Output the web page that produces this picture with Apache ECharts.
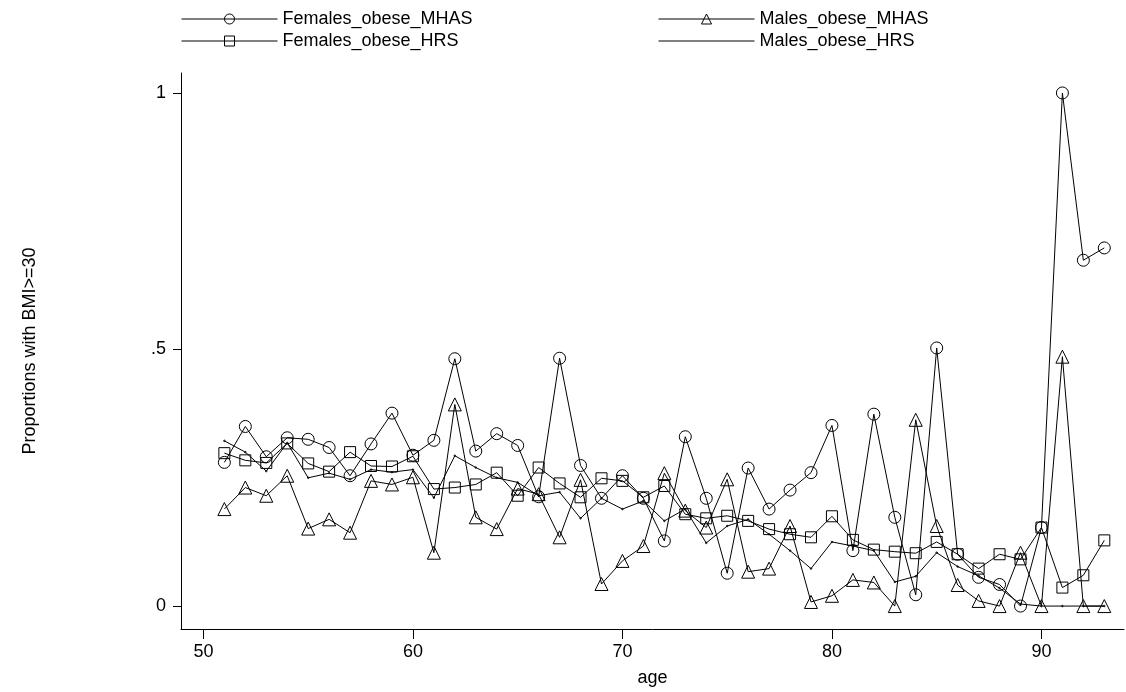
<!DOCTYPE html>
<html>
<head>
<meta charset="utf-8">
<script src="https://cdn.jsdelivr.net/npm/echarts@6/dist/echarts.min.js"></script>
<style>
  html, body { margin: 0; padding: 0; background: #fff; }
  #chart { width: 1126px; height: 692px; }
</style>
</head>
<body>
<div id="chart"></div>
<script>
// ages 51..93
const ages = [51,52,53,54,55,56,57,58,59,60,61,62,63,64,65,66,67,68,69,70,71,72,73,74,75,76,77,78,79,80,81,82,83,84,85,86,87,88,89,90,91,92,93];

const femalesObeseMHAS = [0.280,0.350,0.291,0.328,0.325,0.309,0.254,0.316,0.376,0.294,0.323,0.482,0.302,0.336,0.313,0.213,0.483,0.274,0.210,0.254,0.210,0.127,0.330,0.210,0.064,0.269,0.189,0.226,0.260,0.352,0.108,0.374,0.173,0.022,0.503,0.101,0.056,0.042,0.000,0.153,1.000,0.674,0.698];

const femalesObeseHRS = [0.298,0.284,0.279,0.317,0.278,0.262,0.300,0.273,0.272,0.292,0.228,0.231,0.237,0.260,0.215,0.270,0.239,0.212,0.249,0.244,0.212,0.234,0.179,0.171,0.176,0.166,0.150,0.140,0.134,0.175,0.129,0.110,0.106,0.103,0.125,0.101,0.073,0.101,0.091,0.153,0.036,0.060,0.128];

const malesObeseMHAS = [0.189,0.231,0.215,0.254,0.151,0.169,0.143,0.244,0.237,0.251,0.104,0.393,0.173,0.150,0.229,0.218,0.134,0.246,0.043,0.088,0.117,0.259,0.186,0.153,0.247,0.067,0.073,0.156,0.008,0.020,0.051,0.046,0.000,0.363,0.156,0.041,0.010,0.000,0.104,0.000,0.486,0.000,0.000];

const malesObeseHRS = [0.322,0.300,0.263,0.318,0.250,0.259,0.247,0.266,0.261,0.266,0.211,0.293,0.270,0.250,0.241,0.215,0.222,0.171,0.210,0.189,0.205,0.166,0.189,0.123,0.156,0.169,0.140,0.108,0.073,0.125,0.117,0.108,0.047,0.058,0.104,0.077,0.059,0.035,0.004,0.000,0.000,0.000,0.000];

const xTicks = [50, 60, 70, 80, 90];
const yTicks = [0, 0.5, 1];
const yTickLabels = ['0', '.5', '1'];

const FONT = "'Liberation Sans', Arial, sans-serif";
const INK = '#000';
const FS = 18;

function pairs(vals) { return ages.map((a, i) => [a, vals[i]]); }

function mkSeries(name, vals, symbol, size) {
  return {
    name: name,
    type: 'line',
    data: pairs(vals),
    symbol: symbol,
    symbolSize: size,
    showSymbol: true,
    animation: false,
    lineStyle: { color: INK, width: 1 },
    itemStyle: { color: 'rgba(0,0,0,0)', borderColor: INK, borderWidth: 1 },
    emphasis: { disabled: true }
  };
}

const chart = echarts.init(document.getElementById('chart'), null, { renderer: 'canvas' });

const legendCommon = {
  orient: 'vertical',
  top: 10,
  padding: 0,
  itemGap: 4,
  itemWidth: 96,
  itemHeight: 12.5,
  selectedMode: false,
  textStyle: { fontFamily: FONT, fontSize: FS, color: INK, lineHeight: 18 },
  lineStyle: { width: 1, color: INK },
  itemStyle: { borderWidth: 1, borderColor: INK }
};

chart.setOption({
  backgroundColor: '#fff',
  animation: false,
  legend: [
    Object.assign({}, legendCommon, { left: 181, data: ['Females_obese_MHAS', 'Females_obese_HRS'] }),
    Object.assign({}, legendCommon, { left: 658, data: ['Males_obese_MHAS', { name: 'Males_obese_HRS', itemStyle: { color: 'rgba(0,0,0,0)', borderColor: 'rgba(0,0,0,0)' } }] })
  ],
  grid: { left: 181, right: 2, top: 73, bottom: 62, containLabel: false },
  xAxis: {
    type: 'value',
    min: 48.93,
    max: 93.94,
    name: 'age',
    nameLocation: 'middle',
    nameGap: 40,
    nameTextStyle: { fontFamily: FONT, fontSize: FS, color: INK },
    axisLine: { show: true, onZero: false, lineStyle: { color: INK, width: 1 } },
    axisTick: { show: true, length: 10, customValues: xTicks, lineStyle: { color: INK } },
    axisLabel: { customValues: xTicks, margin: 14, fontFamily: FONT, fontSize: FS, color: INK },
    splitLine: { show: false }
  },
  yAxis: {
    type: 'value',
    min: -0.0447,
    max: 1.0389,
    name: 'Proportions with BMI>=30',
    nameLocation: 'middle',
    nameGap: 142,
    nameRotate: 90,
    nameTextStyle: { fontFamily: FONT, fontSize: FS, color: INK },
    axisLine: { show: true, onZero: false, lineStyle: { color: INK, width: 1 } },
    axisTick: { show: true, length: 8, customValues: yTicks, lineStyle: { color: INK } },
    axisLabel: {
      customValues: yTicks, margin: 15, fontFamily: FONT, fontSize: FS, color: INK,
      formatter: function (v) { const i = yTicks.indexOf(v); return i >= 0 ? yTickLabels[i] : ''; }
    },
    splitLine: { show: false }
  },
  series: [
    mkSeries('Females_obese_MHAS', femalesObeseMHAS, 'circle', 12),
    mkSeries('Males_obese_MHAS', malesObeseMHAS, 'triangle', 13),
    mkSeries('Females_obese_HRS', femalesObeseHRS, 'rect', 11),
    mkSeries('Males_obese_HRS', malesObeseHRS, 'circle', 1.5)
  ]
});
</script>
</body>
</html>
